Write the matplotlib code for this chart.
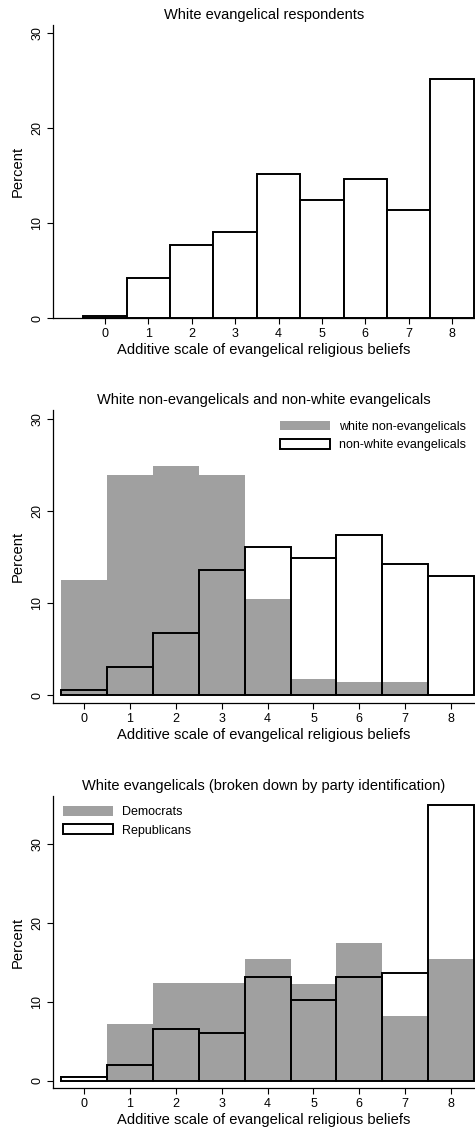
import matplotlib.pyplot as plt
import numpy as np
from matplotlib.patches import Patch

plt.rcParams['font.family'] = ['Liberation Sans', 'DejaVu Sans']

scale = np.arange(0, 9)

# percent of respondents at each point of the belief scale
white_evang = [0.2, 4.2, 7.7, 9.1, 15.2, 12.4, 14.7, 11.4, 25.2]
white_nonevang = [12.5, 23.9, 24.9, 23.9, 10.4, 1.7, 1.4, 1.4, 0.0]
nonwhite_evang = [0.55, 3.1, 6.8, 13.6, 16.1, 14.9, 17.4, 14.3, 13.0]
democrats = [0.0, 7.2, 12.35, 12.35, 15.4, 12.3, 17.4, 8.2, 15.4]
republicans = [0.5, 2.0, 6.6, 6.1, 13.2, 10.2, 13.2, 13.7, 35.0]

gray = '#a0a0a0'
xlab = 'Additive scale of evangelical religious beliefs'

fig = plt.figure(figsize=(4.75, 11.33), dpi=100)
ax1 = fig.add_axes([0.1116, 0.7193, 0.8884, 0.2587])
ax2 = fig.add_axes([0.1116, 0.3795, 0.8884, 0.2586])
ax3 = fig.add_axes([0.1116, 0.0397, 0.8884, 0.2577])

def style(ax, title, ylim, xlim, yticks):
	ax.set_xlim(*xlim)
	ax.set_ylim(*ylim)
	for s in ['top', 'right']:
		ax.spines[s].set_visible(False)
	for s in ['left', 'bottom']:
		ax.spines[s].set_linewidth(0.9)
	ax.set_xticks(scale)
	ax.set_yticks(yticks)
	ax.set_yticklabels([str(t) for t in yticks], rotation=90, va='center')
	ax.tick_params(length=4, width=0.8, labelsize=9, pad=3)
	ax.set_title(title, fontsize=10.5, pad=4)
	ax.set_ylabel('Percent', fontsize=10.6, labelpad=5)
	ax.set_xlabel(xlab, fontsize=10.6, labelpad=2)

def legend(ax, handles, loc, anchor):
	ax.legend(handles=handles, loc=loc, bbox_to_anchor=anchor, frameon=False, fontsize=9,
		handlelength=4.0, handleheight=0.8, handletextpad=0.7, labelspacing=0.5, borderaxespad=0)

# top panel
ax1.bar(scale, white_evang, width=1.0, color='white', edgecolor='black', linewidth=1.4)
style(ax1, 'White evangelical respondents', (0, 30.9), (-1.2, 8.53), [0, 10, 20, 30])

# middle panel
ax2.bar(scale, white_nonevang, width=1.0, color=gray, edgecolor=gray, linewidth=0)
ax2.bar(scale, nonwhite_evang, width=1.0, fill=False, edgecolor='black', linewidth=1.4)
style(ax2, 'White non-evangelicals and non-white evangelicals', (-0.87, 31.0), (-0.676, 8.52), [0, 10, 20, 30])
legend(ax2, [Patch(facecolor=gray, edgecolor=gray, linewidth=0, label='white non-evangelicals'),
	Patch(facecolor='white', edgecolor='black', linewidth=1.4, label='non-white evangelicals')],
	'upper right', (0.99, 0.98))

# bottom panel
ax3.bar(scale, democrats, width=1.0, color=gray, edgecolor=gray, linewidth=0)
ax3.bar(scale, republicans, width=1.0, color='none', edgecolor='black', linewidth=1.4)
ax3.bar(scale[0], republicans[0], width=1.0, color='white', edgecolor='black', linewidth=1.4)
style(ax3, 'White evangelicals (broken down by party identification)', (-0.93, 36.1), (-0.676, 8.52), [0, 10, 20, 30])
legend(ax3, [Patch(facecolor=gray, edgecolor=gray, linewidth=0, label='Democrats'),
	Patch(facecolor='white', edgecolor='black', linewidth=1.4, label='Republicans')],
	'upper left', (0.012, 0.983))

plt.savefig('out.png', dpi=100)
plt.close()
